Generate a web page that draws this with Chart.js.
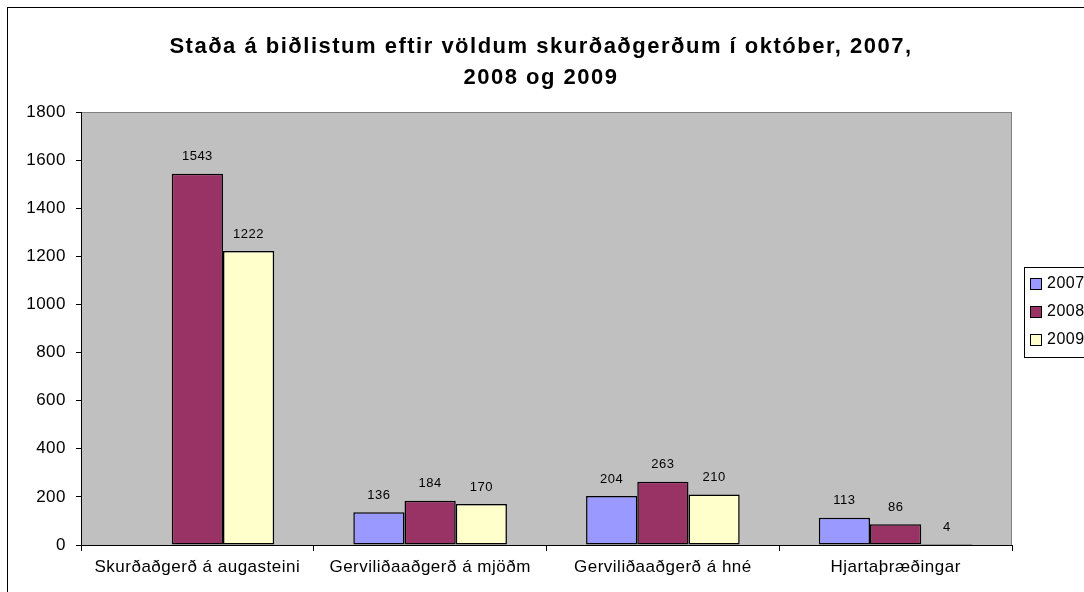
<!DOCTYPE html>
<html lang="is">
<head>
<meta charset="utf-8">
<title>Staða á biðlistum</title>
<style>
  body { margin: 0; background: #fff; }
  #wrap { width: 1084px; height: 592px; position: relative; }
</style>
<script src="https://cdn.jsdelivr.net/npm/chart.js"></script>
</head>
<body>
<div id="wrap"><canvas id="myChart"></canvas></div>
<script>
// gögn lesin af myndinni
const categories = ['Skurðaðgerð á augasteini', 'Gerviliðaaðgerð á mjöðm', 'Gerviliðaaðgerð á hné', 'Hjartaþræðingar'];
const years = ['2007', '2008', '2009'];
const values2007 = [null, 136, 204, 113];
const values2008 = [1543, 184, 263, 86];
const values2009 = [1222, 170, 210, 4];
const yTicks = [0, 200, 400, 600, 800, 1000, 1200, 1400, 1600, 1800];
const titleLines = ['Staða á biðlistum eftir völdum skurðaðgerðum í október, 2007,', '2008 og 2009'];
const colors = ['#9999FF', '#993366', '#FFFFCC'];

const series = [values2007, values2008, values2009];
const FONT = '"Liberation Sans", Arial, sans-serif';

// hvítur bakgrunnur, rammi, titill og grátt teiknisvæði
const background = {
  id: 'background',
  beforeDraw(chart) {
    const ctx = chart.ctx, a = chart.chartArea;
    ctx.save();
    ctx.fillStyle = '#fff';
    ctx.fillRect(0, 0, chart.width, chart.height);
    ctx.strokeStyle = '#000';
    ctx.lineWidth = 1;
    ctx.strokeRect(7.5, 7.5, 2000, 2000);
    ctx.fillStyle = '#C0C0C0';
    ctx.fillRect(a.left, a.top, a.right - a.left, a.bottom - a.top);
    ctx.strokeStyle = '#808080';
    ctx.strokeRect(a.left + 0.5, a.top + 0.5, a.right - a.left - 1, a.bottom - a.top);

    ctx.font = 'bold 22px ' + FONT;
    ctx.letterSpacing = '1.5px';
    ctx.fillStyle = '#000';
    ctx.textAlign = 'center';
    ctx.textBaseline = 'middle';
    titleLines.forEach((t, i) => ctx.fillText(t, 541, 47 + i * 31));
    ctx.restore();
    // smá stafabil eins og í Excel
    ctx.letterSpacing = '0.5px';
  }
};

// gildi fyrir ofan súlurnar
const barLabels = {
  id: 'barLabels',
  afterDatasetsDraw(chart) {
    const ctx = chart.ctx;
    ctx.save();
    ctx.font = '13px ' + FONT;
    ctx.fillStyle = '#000';
    ctx.textAlign = 'center';
    ctx.textBaseline = 'middle';
    chart.data.datasets.forEach((ds, i) => {
      chart.getDatasetMeta(i).data.forEach((bar, j) => {
        const v = ds.data[j];
        if (v === null) return;
        ctx.fillText(String(v), bar.x, bar.y - 17);
      });
    });
    ctx.restore();
  }
};

// skýringar til hægri (klipptar við brún eins og á myndinni)
const sideLegend = {
  id: 'sideLegend',
  afterDraw(chart) {
    const ctx = chart.ctx;
    const x = 1024.5, y = 267.5, w = 80, h = 90;
    ctx.save();
    ctx.fillStyle = '#fff';
    ctx.fillRect(x, y, w, h);
    ctx.strokeStyle = '#000';
    ctx.lineWidth = 1;
    ctx.strokeRect(x, y, w, h);
    ctx.font = '16px ' + FONT;
    ctx.textBaseline = 'middle';
    chart.data.datasets.forEach((ds, i) => {
      const cy = 284 + i * 28;
      ctx.fillStyle = ds.backgroundColor;
      ctx.fillRect(1030.5, cy - 5.5, 11, 11);
      ctx.strokeStyle = '#000';
      ctx.strokeRect(1030.5, cy - 5.5, 11, 11);
      ctx.fillStyle = '#000';
      ctx.fillText(ds.label, 1047, cy);
    });
    ctx.restore();
  }
};

new Chart(document.getElementById('myChart'), {
  type: 'bar',
  data: {
    labels: categories,
    datasets: years.map((y, i) => ({
      label: y,
      data: series[i],
      backgroundColor: colors[i],
      borderColor: '#000',
      borderWidth: 1.5,
      borderSkipped: false,
      barPercentage: 1,
      categoryPercentage: 0.66
    }))
  },
  options: {
    responsive: true,
    maintainAspectRatio: false,
    animation: false,
    layout: { padding: { left: 0, right: 72, top: 112, bottom: 0 } },
    plugins: {
      legend: { display: false },
      tooltip: { enabled: false },
      title: { display: false }
    },
    scales: {
      x: {
        afterFit(s) { s.height = 47; },
        grid: { drawOnChartArea: false, offset: true, tickLength: 6, color: '#000' },
        border: { color: '#000', width: 1 },
        ticks: {
          color: '#000',
          padding: 6,
          maxRotation: 0,
          font: { family: FONT, size: 17 }
        }
      },
      y: {
        min: 0,
        max: 1800,
        afterFit(s) { s.width = 81; },
        afterBuildTicks(s) { s.ticks = yTicks.map(v => ({ value: v })); },
        grid: { drawOnChartArea: false, tickLength: 5, color: '#000' },
        border: { color: '#000', width: 1 },
        ticks: {
          color: '#000',
          padding: 10,
          callback: v => String(v),
          font: { family: FONT, size: 17 }
        }
      }
    }
  },
  plugins: [background, barLabels, sideLegend]
});
</script>
</body>
</html>
